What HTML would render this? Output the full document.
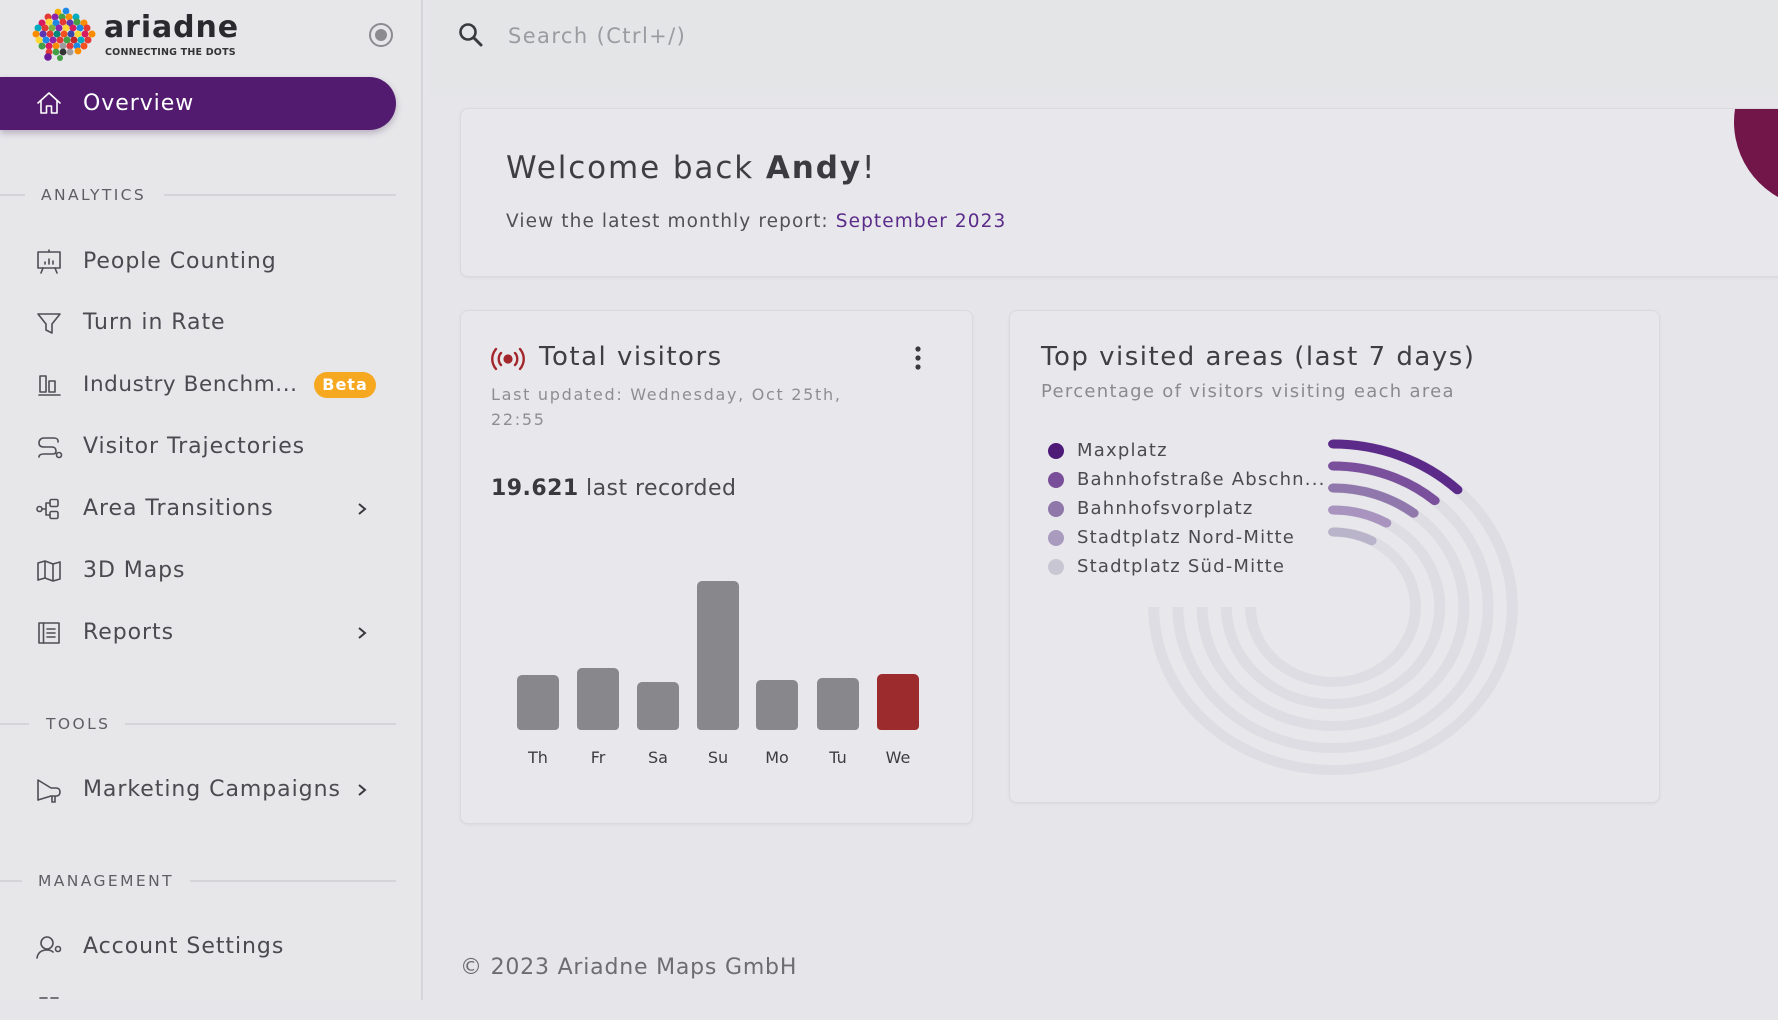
<!DOCTYPE html>
<html><head><meta charset="utf-8">
<style>
*{margin:0;padding:0;box-sizing:border-box}
html,body{width:1778px;height:1000px;overflow:hidden;background:#e6e6ea;font-family:"DejaVu Sans","Liberation Sans",sans-serif;color:#48484e}
.a{position:absolute;white-space:nowrap}
.side{position:absolute;left:0;top:0;width:423px;height:1000px;background:#e7e7ea;border-right:2px solid #d6d6da}
.it{position:absolute;left:83px;height:30px;line-height:30px;font-size:22px;letter-spacing:.95px;color:#4a4a50;white-space:nowrap}
.ic{position:absolute;left:35px;width:28px;height:28px}
.ic *{fill:none;stroke:#4e4e54;stroke-width:1.6;stroke-linejoin:round;stroke-linecap:round}
.sec{position:absolute;height:20px;line-height:20px;font-size:15.5px;letter-spacing:2.4px;color:#5e5e64}
.ln{position:absolute;height:2px;background:#d5d5d9}
.chev{position:absolute;left:357px;width:10px;height:14px}
.card{position:absolute;background:#e8e8ec;border:1.5px solid #d9d9de;border-radius:8px;box-shadow:0 1px 3px rgba(0,0,0,.05)}
.bar{position:absolute;width:42px;border-radius:5px 5px 4px 4px;background:#88878c}
.bl{position:absolute;top:747px;width:60px;text-align:center;height:22px;line-height:22px;font-size:16px;color:#3c3c42}
.lg{position:absolute;left:1077px;height:24px;line-height:24px;font-size:18px;letter-spacing:1.2px;color:#4a4a50;white-space:nowrap}
.dot{position:absolute;left:1048px;width:16px;height:16px;border-radius:50%}
</style></head><body>

<div class="side"></div>
<div style="position:absolute;left:430px;top:0;width:1348px;height:95px;background:#e4e5e7"></div>

<!-- logo -->
<svg class="a" style="left:0;top:0" width="110" height="66" viewBox="0 0 110 66">
<g>
<circle cx="58" cy="12" r="3.4" fill="#f4b400"/><circle cx="66" cy="11" r="3.4" fill="#1e88e5"/>
<circle cx="48" cy="17" r="3.5" fill="#e53935"/><circle cx="55" cy="17" r="3.5" fill="#8e24aa"/><circle cx="62" cy="17" r="3.5" fill="#43a047"/><circle cx="69" cy="17" r="3.5" fill="#fb8c00"/><circle cx="76" cy="17" r="3.5" fill="#00acc1"/>
<circle cx="42" cy="23" r="3.5" fill="#d81b60"/><circle cx="49" cy="22" r="3.5" fill="#fdd835"/><circle cx="56" cy="23" r="3.5" fill="#1e88e5"/><circle cx="63" cy="22" r="3.5" fill="#e53935"/><circle cx="70" cy="23" r="3.5" fill="#5e35b1"/><circle cx="77" cy="22" r="3.5" fill="#43a047"/><circle cx="84" cy="23" r="3.5" fill="#fb8c00"/>
<circle cx="38" cy="28" r="3.5" fill="#00acc1"/><circle cx="45" cy="28" r="3.5" fill="#e53935"/><circle cx="52" cy="28" r="3.5" fill="#7cb342"/><circle cx="59" cy="28" r="3.5" fill="#8e24aa"/><circle cx="66" cy="28" r="3.5" fill="#fdd835"/><circle cx="73" cy="28" r="3.5" fill="#d81b60"/><circle cx="80" cy="28" r="3.5" fill="#1e88e5"/><circle cx="87" cy="28" r="3.5" fill="#e53935"/>
<circle cx="36" cy="34" r="3.5" fill="#fb8c00"/><circle cx="43" cy="34" r="3.5" fill="#5e35b1"/><circle cx="50" cy="34" r="3.5" fill="#e53935"/><circle cx="57" cy="34" r="3.5" fill="#00897b"/><circle cx="64" cy="34" r="3.5" fill="#f4511e"/><circle cx="71" cy="34" r="3.5" fill="#3949ab"/><circle cx="78" cy="34" r="3.5" fill="#fdd835"/><circle cx="85" cy="34" r="3.5" fill="#d81b60"/><circle cx="92" cy="34" r="3.5" fill="#fb8c00"/>
<circle cx="39" cy="40" r="3.5" fill="#fdd835"/><circle cx="46" cy="40" r="3.5" fill="#1e88e5"/><circle cx="53" cy="40" r="3.5" fill="#8e24aa"/><circle cx="60" cy="40" r="3.5" fill="#e53935"/><circle cx="67" cy="40" r="3.5" fill="#43a047"/><circle cx="74" cy="40" r="3.5" fill="#c62828"/><circle cx="81" cy="40" r="3.5" fill="#00acc1"/><circle cx="88" cy="40" r="3.5" fill="#e53935"/>
<circle cx="42" cy="46" r="3.5" fill="#43a047"/><circle cx="49" cy="46" r="3.5" fill="#d81b60"/><circle cx="56" cy="46" r="3.5" fill="#fb8c00"/><circle cx="63" cy="46" r="3.5" fill="#9e9e9e"/><circle cx="70" cy="46" r="3.5" fill="#e53935"/><circle cx="77" cy="46" r="3.5" fill="#1e88e5"/><circle cx="84" cy="46" r="3.5" fill="#f4511e"/>
<circle cx="49" cy="52" r="3.4" fill="#e53935"/><circle cx="56" cy="52" r="3.4" fill="#43a047"/><circle cx="63" cy="52" r="3.4" fill="#333"/><circle cx="70" cy="52" r="3.4" fill="#9e9e9e"/><circle cx="78" cy="51" r="3.4" fill="#fb8c00"/>
<circle cx="48" cy="57" r="3.8" fill="#6a1b9a"/><circle cx="60" cy="58" r="3" fill="#43a047"/>
</g></svg>
<div class="a" style="left:104px;top:8px;font-size:30px;font-weight:bold;letter-spacing:.9px;color:#2a2a2e;line-height:40px">ariadne</div>
<div class="a" style="left:105px;top:47px;font-size:9.5px;font-weight:bold;letter-spacing:.2px;color:#333;line-height:12px">CONNECTING THE DOTS</div>
<svg class="a" style="left:367px;top:21px" width="28" height="28"><circle cx="14" cy="14" r="11" fill="none" stroke="#8b8b90" stroke-width="2"/><circle cx="14" cy="14" r="6" fill="#8b8b90"/></svg>

<!-- overview pill -->
<div class="a" style="left:0;top:77px;width:396px;height:53px;background:#521b6f;border-radius:0 27px 27px 0;box-shadow:0 3px 7px rgba(40,0,60,.25)"></div>
<svg class="ic" style="top:89px" viewBox="0 0 28 28"><path d="M3 14 L14 4 L25 14 M6 11.5 V24 H11.5 V17 H16.5 V24 H22 V11.5" style="stroke:#fff"/></svg>
<div class="it" style="top:89px;color:#fff">Overview</div>

<!-- sections -->
<div class="ln" style="left:0;top:194px;width:25px"></div>
<div class="sec" style="left:41px;top:185px">ANALYTICS</div>
<div class="ln" style="left:164px;top:194px;width:232px"></div>

<svg class="ic" style="top:248px" viewBox="0 0 28 28"><rect x="3" y="4" width="22" height="16"/><path d="M14 2 V4 M8 20 L6 25 M20 20 L22 25 M10 16 V14 M14 16 V11 M18 16 V13"/></svg>
<div class="it" style="top:247px">People Counting</div>

<svg class="ic" style="top:309px" viewBox="0 0 28 28"><path d="M3 5 H25 L17 15 V24 L11 21 V15 Z"/></svg>
<div class="it" style="top:308px">Turn in Rate</div>

<svg class="ic" style="top:371px" viewBox="0 0 28 28"><rect x="5" y="5" width="6" height="16"/><rect x="14" y="10" width="6" height="11"/><path d="M4 24 H25"/></svg>
<div class="it" style="top:370px;font-size:21.5px;letter-spacing:.6px">Industry Benchm...</div>
<div class="a" style="left:314px;top:372px;width:62px;height:26px;border-radius:13px;background:#f6a821;color:#fff;font-size:16px;font-weight:bold;letter-spacing:1px;line-height:26px;text-align:center">Beta</div>

<svg class="ic" style="top:433px" viewBox="0 0 28 28"><path d="M23 9 V8 C23 6 21 5 19 5 H9 C6 5 4 7 4 10 C4 13 6 14 9 14 H17 C20 14 21 16 21 18 C21 20 20 21 18 21 H9 C6 21 4 22 4 24"/><circle cx="24" cy="22" r="2.5"/></svg>
<div class="it" style="top:432px">Visitor Trajectories</div>

<svg class="ic" style="top:495px" viewBox="0 0 28 28"><circle cx="4.5" cy="14" r="2.5"/><path d="M7 14 H11 M11 8 V20 M11 8 H15 M11 20 H15"/><rect x="15" y="4.5" width="8" height="7" rx="1.5"/><rect x="15" y="16.5" width="8" height="7" rx="1.5"/></svg>
<div class="it" style="top:494px">Area Transitions</div>
<svg class="chev" style="top:502px" viewBox="0 0 10 14"><path d="M2 2 L8 7 L2 12" fill="none" stroke="#3a3a3e" stroke-width="2"/></svg>

<svg class="ic" style="top:557px" viewBox="0 0 28 28"><path d="M3 6 L10 4 L18 7 L25 5 V22 L18 24 L10 21 L3 23 Z M10 4 V21 M18 7 V24"/></svg>
<div class="it" style="top:556px">3D Maps</div>

<svg class="ic" style="top:619px" viewBox="0 0 28 28"><rect x="4" y="4" width="20" height="20"/><path d="M8.5 4 V24 M12 10 H20 M12 14 H20 M12 18 H20"/></svg>
<div class="it" style="top:618px">Reports</div>
<svg class="chev" style="top:626px" viewBox="0 0 10 14"><path d="M2 2 L8 7 L2 12" fill="none" stroke="#3a3a3e" stroke-width="2"/></svg>

<div class="ln" style="left:0;top:723px;width:29px"></div>
<div class="sec" style="left:46px;top:714px">TOOLS</div>
<div class="ln" style="left:125px;top:723px;width:271px"></div>

<svg class="ic" style="top:776px" viewBox="0 0 28 28"><path d="M3 4 L16 12 H21 C24 12 25 14 25 16 C25 18 24 20 21 20 H16 L3 24 Z M17 20 V26 H20 V20"/></svg>
<div class="it" style="top:775px">Marketing Campaigns</div>
<svg class="chev" style="top:783px" viewBox="0 0 10 14"><path d="M2 2 L8 7 L2 12" fill="none" stroke="#3a3a3e" stroke-width="2"/></svg>

<div class="ln" style="left:0;top:880px;width:22px"></div>
<div class="sec" style="left:38px;top:871px">MANAGEMENT</div>
<div class="ln" style="left:190px;top:880px;width:206px"></div>

<svg class="ic" style="top:933px" viewBox="0 0 28 28"><circle cx="12" cy="10" r="6"/><path d="M2 25 C3 19 7 17 12 17 C15 17 17 18 18 19"/><circle cx="23" cy="16" r="2.5"/></svg>
<div class="it" style="top:932px">Account Settings</div>
<svg class="ic" style="top:992px" viewBox="0 0 28 28"><path d="M5 6 H12 M16 6 H23"/></svg>

<!-- search -->
<svg class="a" style="left:457px;top:21px" width="30" height="28" viewBox="0 0 30 28"><circle cx="11" cy="11" r="7.5" fill="none" stroke="#3a3a3e" stroke-width="2.6"/><path d="M16.5 16.5 L24 24" stroke="#3a3a3e" stroke-width="3" stroke-linecap="round"/></svg>
<div class="a" style="left:508px;top:21px;height:30px;line-height:30px;font-size:21px;letter-spacing:1.4px;color:#9b9ba1">Search (Ctrl+/)</div>

<!-- welcome card -->
<div class="card" style="left:460px;top:108px;width:1400px;height:169px;overflow:hidden">
  <div style="position:absolute;left:1273px;top:-73px;width:172px;height:172px;border-radius:50%;background:#72164a"></div>
</div>
<div class="a" style="left:506px;top:147px;height:42px;line-height:42px;font-size:31px;letter-spacing:1.9px;color:#3e3e44">Welcome back <b style="color:#3a3a40">Andy</b>!</div>
<div class="a" style="left:506px;top:207px;height:30px;line-height:30px;font-size:18.5px;letter-spacing:1.1px;color:#505056">View the latest monthly report: <span style="color:#5b2b8a">September 2023</span></div>

<!-- total visitors card -->
<div class="card" style="left:460px;top:310px;width:513px;height:514px"></div>
<svg class="a" style="left:489px;top:346px" width="38" height="26" viewBox="0 0 38 26">
<circle cx="19" cy="13" r="4.6" fill="#a3262b"/>
<path d="M12 7 C9 10 9 16 12 19 M26 7 C29 10 29 16 26 19 M7 3 C2 9 2 17 7 23 M31 3 C36 9 36 17 31 23" fill="none" stroke="#a3262b" stroke-width="2.4" stroke-linecap="round"/></svg>
<div class="a" style="left:539px;top:339px;height:36px;line-height:36px;font-size:26px;letter-spacing:1.5px;color:#3e3e44">Total visitors</div>
<svg class="a" style="left:912px;top:345px" width="12" height="26"><circle cx="6" cy="4" r="2.6" fill="#3a3a3e"/><circle cx="6" cy="13" r="2.6" fill="#3a3a3e"/><circle cx="6" cy="22" r="2.6" fill="#3a3a3e"/></svg>
<div class="a" style="left:491px;top:383px;height:24px;line-height:24px;font-size:16px;letter-spacing:1.7px;color:#8d8d93">Last updated: Wednesday, Oct 25th,</div>
<div class="a" style="left:491px;top:408px;height:24px;line-height:24px;font-size:16px;letter-spacing:1.7px;color:#8d8d93">22:55</div>
<div class="a" style="left:491px;top:474px;height:30px;line-height:30px;font-size:22px;letter-spacing:.45px;color:#4a4a50"><b style="color:#38383d">19.621</b> last recorded</div>

<div class="bar" style="left:517px;top:675px;height:55px"></div>
<div class="bar" style="left:577px;top:668px;height:62px"></div>
<div class="bar" style="left:637px;top:682px;height:48px"></div>
<div class="bar" style="left:697px;top:581px;height:149px"></div>
<div class="bar" style="left:756px;top:680px;height:50px"></div>
<div class="bar" style="left:817px;top:678px;height:52px"></div>
<div class="bar" style="left:877px;top:674px;height:56px;background:#9c2b2e"></div>
<div class="bl" style="left:508px">Th</div>
<div class="bl" style="left:568px">Fr</div>
<div class="bl" style="left:628px">Sa</div>
<div class="bl" style="left:688px">Su</div>
<div class="bl" style="left:747px">Mo</div>
<div class="bl" style="left:808px">Tu</div>
<div class="bl" style="left:868px">We</div>

<!-- top visited card -->
<div class="card" style="left:1009px;top:310px;width:651px;height:493px"></div>
<div class="a" style="left:1041px;top:339px;height:36px;line-height:36px;font-size:26px;letter-spacing:1.5px;color:#3e3e44">Top visited areas (last 7 days)</div>
<div class="a" style="left:1041px;top:379px;height:26px;line-height:26px;font-size:18px;letter-spacing:1.3px;color:#8a8a90">Percentage of visitors visiting each area</div>

<div class="dot" style="top:443px;background:#4e1a78"></div><div class="lg" style="top:439px">Maxplatz</div>
<div class="dot" style="top:472px;background:#7a4f9a"></div><div class="lg" style="top:468px">Bahnhofstraße Abschn...</div>
<div class="dot" style="top:501px;background:#8f77aa"></div><div class="lg" style="top:497px">Bahnhofsvorplatz</div>
<div class="dot" style="top:530px;background:#a89bbd"></div><div class="lg" style="top:526px">Stadtplatz Nord-Mitte</div>
<div class="dot" style="top:559px;background:#c9c6d4"></div><div class="lg" style="top:555px">Stadtplatz Süd-Mitte</div>

<svg class="a" style="left:0;top:0" width="1778" height="1000">
<g transform="translate(1333,607) scale(1.1,1)" fill="none">
<g stroke="#dedde3" stroke-width="10">
<path d="M0 -163 A163 163 0 1 1 -163 0"/>
<path d="M0 -141 A141 141 0 1 1 -141 0"/>
<path d="M0 -119 A119 119 0 1 1 -119 0"/>
<path d="M0 -97 A97 97 0 1 1 -97 0"/>
<path d="M0 -75 A75 75 0 1 1 -75 0"/>
</g>
<g stroke-width="9" stroke-linecap="round">
<path d="M0 -163 A163 163 0 0 1 113.2 -117.2" stroke="#5c2a88"/>
<path d="M0 -141 A141 141 0 0 1 92.5 -106.4" stroke="#7a4f9c"/>
<path d="M0 -119 A119 119 0 0 1 73.3 -93.8" stroke="#9078ac"/>
<path d="M0 -97 A97 97 0 0 1 48.5 -84" stroke="#a894bf"/>
<path d="M0 -75 A75 75 0 0 1 35.2 -66.2" stroke="#bab4ca"/>
</g>
</g>
</svg>

<!-- footer -->
<div class="a" style="left:460px;top:953px;height:30px;line-height:30px;font-size:22px;letter-spacing:.8px;color:#6c6c72">© 2023 Ariadne Maps GmbH</div>

</body></html>
